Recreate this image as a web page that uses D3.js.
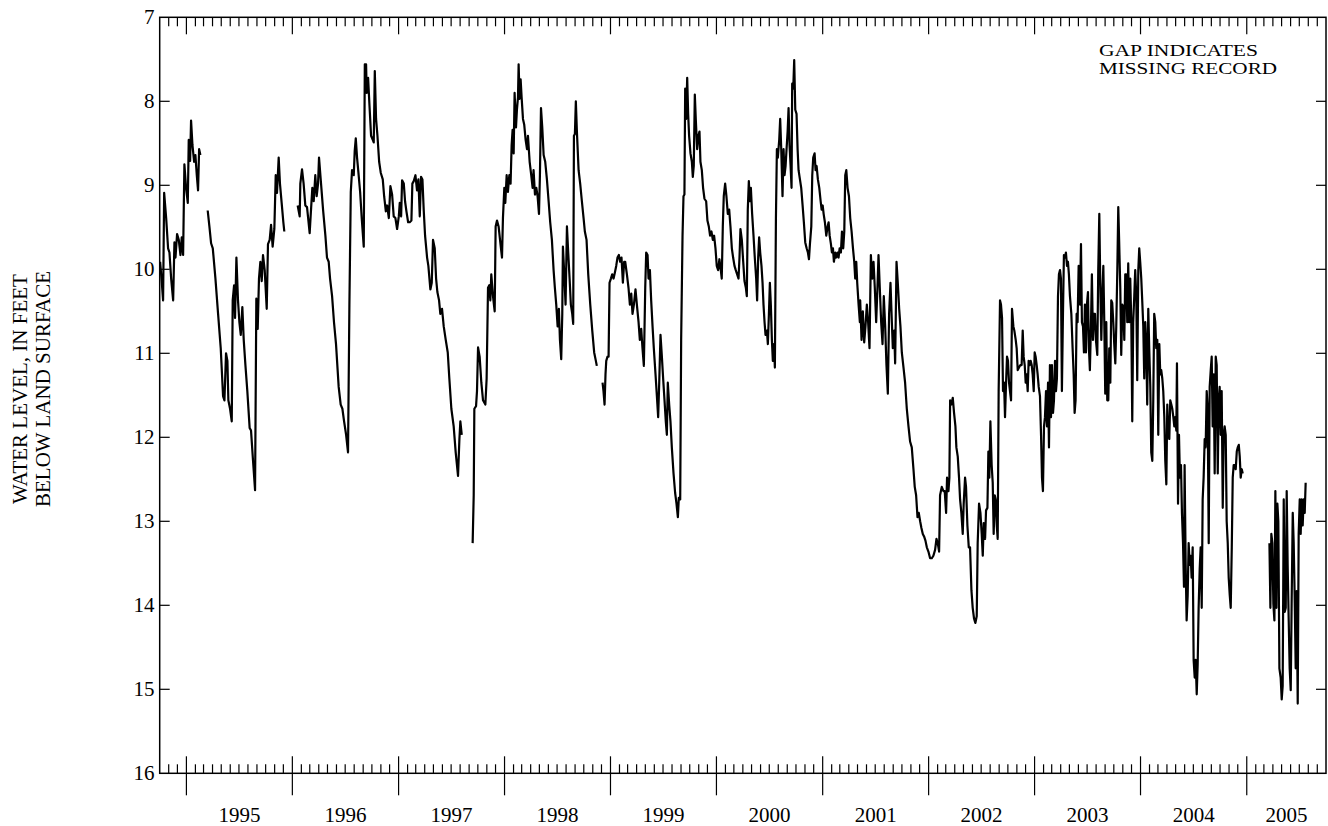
<!DOCTYPE html>
<html><head><meta charset="utf-8">
<script src="https://cdn.jsdelivr.net/npm/d3@7"></script>
<style>
body{margin:0;background:#fff}
svg{display:block}
text{font-family:"Liberation Serif","Times New Roman",Times,serif;fill:#000}
</style>
</head><body>
<svg id="chart" width="1328" height="826"></svg>
<script>
// Water level, feet below land surface; [decimal year, level]. Gaps between segments = missing record.
const segOct94Feb95 = [[1994.752,9.91],[1994.765,10.11],[1994.780,10.37],[1994.790,9.09],[1994.809,9.39],[1994.827,9.75],[1994.840,9.80],[1994.856,10.11],[1994.875,10.37],[1994.887,9.68],[1994.897,9.86],[1994.912,9.58],[1994.928,9.65],[1994.944,9.83],[1994.956,9.62],[1994.969,9.83],[1994.981,8.75],[1994.997,9.03],[1995.013,9.21],[1995.022,8.46],[1995.035,8.71],[1995.044,8.23],[1995.057,8.52],[1995.073,8.72],[1995.085,8.64],[1995.098,8.88],[1995.110,9.06],[1995.120,8.57],[1995.132,8.64]];

const segMar95Dec95 = [[1995.201,9.30],[1995.217,9.49],[1995.233,9.69],[1995.249,9.75],[1995.274,10.11],[1995.299,10.53],[1995.324,10.94],[1995.346,11.51],[1995.359,11.56],[1995.374,11.00],[1995.387,11.09],[1995.396,11.56],[1995.412,11.66],[1995.428,11.81],[1995.437,10.37],[1995.450,10.19],[1995.459,10.58],[1995.472,9.86],[1995.487,10.37],[1995.500,10.63],[1995.513,10.78],[1995.528,10.45],[1995.541,10.84],[1995.557,11.14],[1995.575,11.45],[1995.597,11.89],[1995.610,11.92],[1995.629,12.28],[1995.648,12.63],[1995.660,10.35],[1995.673,10.71],[1995.685,10.11],[1995.698,9.91],[1995.711,10.14],[1995.723,9.83],[1995.739,10.01],[1995.758,10.47],[1995.770,9.70],[1995.786,9.65],[1995.799,9.47],[1995.814,9.73],[1995.830,9.52],[1995.843,8.88],[1995.855,9.09],[1995.871,8.67],[1995.883,8.98],[1995.899,9.21],[1995.915,9.44],[1995.924,9.55]];

const segJan96Aug97 = [[1996.050,9.24],[1996.069,9.37],[1996.075,8.98],[1996.091,8.81],[1996.106,8.98],[1996.122,9.24],[1996.138,9.26],[1996.147,9.37],[1996.163,9.57],[1996.172,9.37],[1996.188,9.03],[1996.201,9.19],[1996.216,8.88],[1996.229,9.13],[1996.242,8.98],[1996.251,8.67],[1996.270,8.98],[1996.289,9.29],[1996.311,9.60],[1996.326,9.86],[1996.342,9.91],[1996.355,10.11],[1996.374,10.32],[1996.392,10.63],[1996.411,10.89],[1996.436,11.40],[1996.455,11.61],[1996.471,11.66],[1996.487,11.81],[1996.506,11.97],[1996.524,12.18],[1996.537,10.42],[1996.550,9.08],[1996.562,8.82],[1996.578,8.88],[1996.587,8.59],[1996.597,8.44],[1996.609,8.67],[1996.622,8.85],[1996.638,9.08],[1996.653,9.39],[1996.672,9.73],[1996.682,7.56],[1996.694,7.56],[1996.700,7.90],[1996.713,7.72],[1996.726,8.05],[1996.741,8.41],[1996.757,8.46],[1996.766,8.49],[1996.776,7.64],[1996.788,8.21],[1996.801,8.41],[1996.817,8.72],[1996.832,8.85],[1996.851,8.93],[1996.864,9.13],[1996.880,9.31],[1996.892,9.24],[1996.908,9.39],[1996.923,9.01],[1996.939,9.11],[1996.954,9.37],[1996.970,9.39],[1996.986,9.52],[1997.002,9.37],[1997.011,9.21],[1997.024,9.37],[1997.033,8.94],[1997.049,8.98],[1997.061,9.19],[1997.074,9.31],[1997.090,9.44],[1997.105,9.44],[1997.121,9.42],[1997.130,8.98],[1997.143,8.95],[1997.159,8.88],[1997.174,9.06],[1997.187,8.93],[1997.200,9.37],[1997.212,8.90],[1997.225,8.93],[1997.237,9.29],[1997.250,9.60],[1997.269,9.86],[1997.281,9.96],[1997.300,10.24],[1997.313,10.16],[1997.325,9.65],[1997.341,9.75],[1997.354,10.11],[1997.366,10.27],[1997.382,10.37],[1997.394,10.53],[1997.410,10.47],[1997.426,10.68],[1997.445,10.84],[1997.464,10.99],[1997.479,11.30],[1997.498,11.66],[1997.520,11.87],[1997.539,12.18],[1997.561,12.46],[1997.574,12.02],[1997.583,11.81],[1997.596,11.97]];

const segSep97Nov98 = [[1997.699,13.26],[1997.709,12.69],[1997.715,11.66],[1997.731,11.63],[1997.740,11.45],[1997.750,10.93],[1997.765,11.04],[1997.781,11.35],[1997.797,11.56],[1997.819,11.61],[1997.831,11.30],[1997.844,10.22],[1997.856,10.19],[1997.866,10.37],[1997.875,10.06],[1997.891,10.32],[1997.907,10.50],[1997.916,9.49],[1997.929,9.42],[1997.944,9.49],[1997.960,9.68],[1997.976,9.86],[1997.985,9.39],[1997.998,9.03],[1998.007,9.21],[1998.020,8.88],[1998.032,9.08],[1998.045,8.88],[1998.057,8.98],[1998.067,8.52],[1998.076,8.34],[1998.086,8.62],[1998.095,7.90],[1998.108,8.31],[1998.117,8.10],[1998.127,7.95],[1998.133,7.56],[1998.142,7.97],[1998.152,7.74],[1998.161,7.95],[1998.174,8.21],[1998.186,8.28],[1998.199,8.46],[1998.212,8.57],[1998.221,8.41],[1998.237,8.72],[1998.252,8.88],[1998.265,9.03],[1998.274,8.82],[1998.287,9.11],[1998.300,9.03],[1998.312,9.13],[1998.325,9.34],[1998.334,8.88],[1998.344,8.08],[1998.356,8.31],[1998.369,8.64],[1998.384,8.72],[1998.400,8.93],[1998.416,9.19],[1998.431,9.44],[1998.447,9.65],[1998.463,10.01],[1998.475,10.22],[1998.488,10.42],[1998.501,10.68],[1998.513,10.47],[1998.523,10.84],[1998.535,11.07],[1998.545,10.53],[1998.551,9.73],[1998.564,10.06],[1998.576,10.42],[1998.589,9.49],[1998.601,9.80],[1998.614,10.11],[1998.626,10.42],[1998.639,10.53],[1998.648,10.65],[1998.655,8.41],[1998.664,8.39],[1998.673,8.00],[1998.683,8.36],[1998.699,8.82],[1998.714,8.98],[1998.730,9.19],[1998.746,9.39],[1998.758,9.55],[1998.774,9.65],[1998.790,10.06],[1998.809,10.42],[1998.828,10.73],[1998.846,10.99],[1998.862,11.09],[1998.871,11.15]];

const segDec98Dec04 = [[1998.925,11.35],[1998.934,11.45],[1998.944,11.61],[1998.953,11.25],[1998.960,11.09],[1998.972,11.04],[1998.982,11.04],[1998.991,10.16],[1999.004,10.11],[1999.016,10.06],[1999.029,10.11],[1999.041,10.04],[1999.054,9.96],[1999.066,9.86],[1999.079,9.83],[1999.091,9.91],[1999.104,9.86],[1999.117,10.16],[1999.129,9.91],
[1999.139,9.91],[1999.155,10.06],[1999.170,10.22],[1999.183,10.42],[1999.196,10.29],[1999.208,10.53],[1999.221,10.42],[1999.236,10.24],[1999.249,10.42],[1999.265,10.63],[1999.277,10.84],[1999.290,10.71],[1999.302,10.94],[1999.315,11.15],[1999.328,10.22],[1999.337,9.80],[1999.350,9.83],[1999.359,10.11],[1999.372,10.01],[1999.384,10.37],[1999.397,10.68],[1999.409,10.94],[1999.425,11.25],[1999.438,11.51],[1999.450,11.76],[1999.460,11.35],[1999.472,10.78],[1999.485,11.04],[1999.497,11.30],[1999.510,11.56],[1999.522,11.81],[1999.532,11.97],[1999.541,11.35],[1999.554,11.61],[1999.566,11.81],[1999.579,12.12],[1999.595,12.43],[1999.610,12.66],[1999.623,12.79],[1999.636,12.95],[1999.645,12.72],[1999.658,12.74],[1999.667,10.84],[1999.680,9.60],[1999.689,9.13],[1999.698,9.11],[1999.705,7.85],[1999.714,8.21],[1999.724,7.72],[1999.733,8.15],[1999.742,8.41],[1999.755,8.62],[1999.768,8.72],[1999.777,8.90],[1999.786,8.77],[1999.796,7.92],[1999.805,8.21],[1999.818,8.57],[1999.830,8.41],[1999.840,8.36],[1999.849,8.72],[1999.862,8.82],[1999.874,9.03],[1999.887,9.16],[1999.903,9.19],[1999.915,9.42],[1999.928,9.49],[1999.940,9.60],[1999.953,9.55],[1999.966,9.65],[1999.978,9.60],[1999.991,9.75],
[2000.003,9.96],[2000.016,10.01],[2000.028,9.88],[2000.041,10.01],[2000.050,10.11],[2000.060,9.49],[2000.069,9.13],[2000.082,8.98],[2000.094,9.13],[2000.107,9.34],[2000.120,9.29],[2000.132,9.49],[2000.145,9.75],[2000.157,9.86],[2000.170,9.96],[2000.182,10.01],[2000.195,10.06],[2000.208,10.11],[2000.217,9.86],[2000.226,9.52],[2000.239,9.65],[2000.252,9.91],[2000.264,10.14],[2000.277,10.22],[2000.286,10.32],[2000.295,9.29],[2000.305,8.95],[2000.314,9.19],[2000.324,9.03],[2000.336,9.34],[2000.349,9.60],[2000.361,9.86],[2000.374,10.11],[2000.383,10.37],[2000.393,9.86],[2000.402,9.62],[2000.412,9.80],[2000.424,9.96],[2000.434,10.16],[2000.443,10.42],[2000.453,10.63],[2000.462,10.78],[2000.475,10.73],[2000.484,10.89],[2000.494,10.53],[2000.503,10.16],[2000.512,10.42],[2000.522,10.84],[2000.531,11.09],[2000.541,10.89],[2000.550,11.17],[2000.560,9.39],[2000.569,8.57],[2000.578,8.67],[2000.591,8.46],[2000.600,8.21],[2000.610,8.57],[2000.622,9.13],[2000.632,8.57],[2000.641,8.88],[2000.651,8.77],[2000.660,8.57],[2000.670,8.36],[2000.679,8.08],[2000.688,8.52],[2000.698,8.77],[2000.707,9.03],[2000.713,7.79],[2000.723,7.85],[2000.732,7.51],[2000.742,8.10],[2000.754,8.15],[2000.764,8.57],[2000.773,8.82],[2000.786,8.93],[2000.798,9.03],[2000.811,9.24],[2000.823,9.44],[2000.836,9.68],[2000.849,9.75],[2000.861,9.80],[2000.871,9.88],[2000.880,9.70],[2000.893,9.49],[2000.902,8.88],[2000.911,8.67],[2000.924,8.62],[2000.933,8.82],[2000.943,8.77],[2000.955,8.93],[2000.968,9.03],[2000.981,9.19],[2000.990,9.29],
[2001.000,9.24],[2001.009,9.34],[2001.021,9.44],[2001.034,9.60],[2001.047,9.49],[2001.056,9.44],[2001.066,9.60],[2001.078,9.70],[2001.087,9.80],[2001.097,9.75],[2001.106,9.91],[2001.119,9.80],[2001.128,9.86],[2001.141,9.80],[2001.150,9.86],[2001.160,9.75],[2001.172,9.80],[2001.182,9.55],[2001.194,9.75],[2001.204,9.55],[2001.213,8.88],[2001.223,8.82],[2001.235,9.03],[2001.248,9.13],[2001.260,9.39],[2001.273,9.55],[2001.286,9.75],[2001.298,9.91],[2001.307,10.11],[2001.317,9.91],[2001.326,10.16],[2001.339,10.42],[2001.351,10.63],
[2001.354,10.37],[2001.367,10.84],[2001.379,10.50],[2001.392,10.87],[2001.404,10.68],[2001.417,10.42],[2001.429,10.63],[2001.442,10.94],[2001.455,9.83],[2001.467,10.11],[2001.480,9.91],[2001.492,10.22],[2001.505,10.63],[2001.517,10.22],[2001.527,9.83],[2001.539,10.22],[2001.552,10.63],[2001.565,10.89],[2001.577,10.32],[2001.590,10.68],[2001.602,11.14],[2001.615,11.48],[2001.627,10.53],[2001.640,10.16],[2001.653,10.63],[2001.662,10.94],[2001.675,10.73],[2001.684,11.12],[2001.697,9.91],[2001.709,10.16],[2001.722,10.47],[2001.734,10.68],[2001.747,10.99],[2001.763,11.17],[2001.778,11.35],[2001.794,11.66],[2001.810,11.87],[2001.825,12.05],[2001.841,12.12],[2001.857,12.38],[2001.869,12.59],[2001.882,12.69],[2001.895,12.95],[2001.907,12.90],[2001.920,13.00],[2001.932,13.08],[2001.945,13.15],[2001.957,13.18],[2001.970,13.23],[2001.983,13.31],[2001.998,13.36],
[2002.014,13.44],[2002.030,13.44],[2002.045,13.41],[2002.061,13.34],[2002.074,13.21],[2002.086,13.26],[2002.099,13.36],[2002.108,12.69],[2002.124,12.59],[2002.140,12.64],[2002.152,12.64],[2002.165,12.90],[2002.174,12.48],[2002.187,12.64],[2002.196,12.48],[2002.203,11.56],[2002.215,11.61],[2002.228,11.53],[2002.240,11.71],[2002.253,11.87],[2002.262,12.12],[2002.275,12.23],[2002.287,12.48],[2002.297,12.74],[2002.309,12.90],[2002.322,13.15],[2002.331,12.79],[2002.344,12.48],[2002.353,12.59],[2002.366,13.05],[2002.379,13.31],[2002.391,13.31],[2002.404,13.82],[2002.416,14.03],[2002.429,14.16],[2002.441,14.21],[2002.454,14.13],[2002.463,13.26],[2002.476,12.79],[2002.489,12.90],[2002.501,13.15],[2002.511,13.41],[2002.520,13.02],[2002.533,13.21],[2002.542,12.87],[2002.555,12.84],[2002.564,12.17],[2002.573,12.48],[2002.583,11.81],[2002.595,12.33],[2002.605,12.54],[2002.614,13.15],[2002.624,12.69],[2002.633,12.74],[2002.643,13.05],[2002.652,13.21],[2002.661,11.45],[2002.674,10.37],[2002.683,10.42],[2002.693,10.58],[2002.702,11.45],[2002.712,11.35],[2002.721,11.76],[2002.731,11.35],[2002.740,11.04],[2002.749,11.09],[2002.759,11.35],[2002.768,11.45],[2002.778,11.56],[2002.787,10.47],[2002.800,10.68],[2002.809,10.73],[2002.822,10.84],[2002.831,10.94],[2002.841,11.20],[2002.853,11.17],[2002.866,11.14],[2002.878,11.14],[2002.888,10.73],[2002.897,11.04],[2002.907,11.14],[2002.916,11.35],[2002.925,11.25],[2002.935,11.45],[2002.944,11.09],[2002.954,11.14],[2002.963,11.09],[2002.973,11.14],[2002.982,11.25],[2002.992,11.45],
[2003.001,10.99],[2003.010,11.04],[2003.020,11.14],[2003.029,11.25],[2003.039,11.40],[2003.051,11.51],[2003.061,11.97],[2003.070,12.48],[2003.079,12.64],[2003.089,11.87],[2003.098,11.76],[2003.108,11.45],[2003.117,11.87],[2003.127,11.35],[2003.136,12.12],[2003.145,11.14],[2003.155,11.76],[2003.164,11.14],[2003.174,11.71],[2003.183,11.56],[2003.193,11.09],[2003.202,11.45],[2003.211,11.30],[2003.221,10.32],[2003.230,10.06],[2003.240,10.01],[2003.249,10.11],[2003.258,11.45],[2003.268,10.53],[2003.277,9.83],[2003.287,9.86],[2003.296,9.80],[2003.306,9.96],[2003.315,9.91],[2003.324,10.06],[2003.334,10.32],[2003.347,10.53],[2003.359,10.94],[2003.369,11.25],[2003.378,11.71],[2003.387,11.56],[2003.397,10.53],[2003.406,10.63],[2003.416,9.96],[2003.428,10.42],[2003.438,9.70],[2003.447,10.63],[2003.457,10.68],[2003.466,10.99],[2003.475,10.42],[2003.485,10.99],[2003.494,10.42],[2003.504,10.27],[2003.513,10.94],[2003.522,11.20],[2003.532,10.68],[2003.541,10.06],[2003.551,10.84],[2003.560,10.53],
[2003.570,10.53],[2003.579,10.84],[2003.592,11.02],[2003.601,10.01],[2003.611,9.34],[2003.620,10.16],[2003.630,10.84],[2003.639,10.32],[2003.649,9.96],[2003.658,10.63],[2003.667,11.48],[2003.677,10.63],[2003.686,11.56],[2003.696,11.56],[2003.705,10.94],[2003.715,11.35],[2003.724,10.37],[2003.733,10.40],[2003.743,10.63],[2003.752,10.89],[2003.762,11.12],[2003.771,10.68],[2003.781,10.01],[2003.790,9.26],[2003.799,9.70],[2003.809,10.22],[2003.818,11.02],[2003.828,10.42],[2003.837,10.45],[2003.847,10.84],[2003.856,10.06],[2003.865,10.06],[2003.875,10.63],[2003.884,9.93],[2003.894,10.63],[2003.903,10.11],[2003.913,10.63],[2003.922,11.81],[2003.931,10.63],[2003.941,10.32],[2003.950,10.01],[2003.960,10.32],[2003.969,11.32],[2003.979,10.01],[2003.988,9.75],[2003.997,9.91],
[2004.007,10.11],[2004.016,10.37],[2004.026,10.68],[2004.035,11.30],[2004.045,10.63],[2004.054,10.89],[2004.063,11.61],[2004.073,10.47],[2004.082,10.94],[2004.092,11.40],[2004.101,12.18],[2004.111,12.28],[2004.120,11.56],[2004.129,10.53],[2004.139,10.63],[2004.148,10.94],[2004.158,10.84],[2004.167,11.97],[2004.177,10.89],[2004.186,11.25],[2004.195,11.20],[2004.205,11.30],[2004.214,11.45],[2004.224,11.76],[2004.233,12.28],[2004.243,12.56],[2004.252,11.61],[2004.261,11.97],[2004.271,12.02],[2004.280,11.56],[2004.290,11.61],[2004.299,11.66],[2004.309,11.76],[2004.318,11.87],[2004.327,11.76],[2004.337,11.92],[2004.343,11.12],[2004.353,12.79],[2004.362,11.97],[2004.371,12.48],[2004.381,12.33],[2004.390,12.90],[2004.400,13.26],[2004.409,13.78],[2004.415,12.33],[2004.425,13.52],[2004.434,14.18],[2004.444,13.88],[2004.453,13.26],[2004.463,13.52],[2004.472,13.41],[2004.481,13.67],[2004.491,13.31],[2004.500,14.65],[2004.510,14.86],[2004.519,14.65],[2004.529,15.06],[2004.538,14.70],[2004.547,14.03],[2004.557,13.57],[2004.566,13.31],[2004.576,14.03],[2004.585,12.74],[2004.594,12.48],[2004.604,12.02],[2004.613,12.12],[2004.623,11.45],[2004.632,11.66],[2004.642,13.26],[2004.651,11.40],[2004.661,11.20],[2004.670,11.04],[2004.679,11.87],[2004.689,11.25],[2004.698,12.43],[2004.708,11.04],[2004.717,11.14],[2004.727,12.43],[2004.736,11.56],[2004.745,11.40],[2004.755,11.97],[2004.764,11.45],[2004.774,12.84],[2004.783,11.97],[2004.792,11.87],[2004.802,11.97],[2004.811,13.00],[2004.821,13.26],[2004.830,13.67],[2004.840,13.88],[2004.849,14.03],[2004.859,13.31],[2004.868,12.48],[2004.877,12.33],[2004.887,12.33],[2004.896,12.38],[2004.906,12.17],[2004.915,12.12],[2004.925,12.09],[2004.934,12.23],[2004.943,12.48],[2004.953,12.38],[2004.962,12.43]];

const segMar05Jul05 = [[2005.214,13.26],[2005.223,14.03],[2005.232,13.15],[2005.242,13.26],[2005.251,13.98],[2005.261,14.18],[2005.270,12.64],[2005.280,14.03],[2005.289,12.79],[2005.298,13.00],[2005.308,14.75],[2005.320,14.86],[2005.330,15.12],[2005.339,14.96],[2005.349,12.74],[2005.358,14.08],[2005.368,14.03],[2005.377,12.64],[2005.386,13.52],[2005.396,14.18],[2005.405,14.75],[2005.415,15.01],[2005.424,13.93],[2005.434,12.90],[2005.443,13.26],[2005.452,13.88],[2005.462,14.75],[2005.471,13.83],[2005.481,15.17],[2005.490,13.15],[2005.500,12.74],[2005.509,13.15],[2005.518,12.74],[2005.528,13.05],[2005.537,12.74],[2005.547,12.90],[2005.556,12.54]];

const segments = [segOct94Feb95, segMar95Dec95, segJan96Aug97, segSep97Nov98, segDec98Dec04, segMar05Jul05];
const yTickValues = [7,8,9,10,11,12,13,14,15,16];
const yearLabels = ["1995","1996","1997","1998","1999","2000","2001","2002","2003","2004","2005"];
const noteLines = ["GAP INDICATES","MISSING RECORD"];
const yTitleLines = ["WATER LEVEL, IN FEET","BELOW LAND SURFACE"];

const W = 1328, H = 826;
const m = {l:159.7, r:1326, t:17.3, b:773.3};
const svg = d3.select("#chart");

const x = d3.scaleUtc()
  .domain([new Date(Date.UTC(1994,9,1)), new Date(Date.UTC(2005,9,1))])
  .range([m.l, m.r]);
const y = d3.scaleLinear().domain([7,16]).range([m.t, m.b]);

function decToDate(t){
  const yr = Math.floor(t);
  const a = Date.UTC(yr,0,1), b = Date.UTC(yr+1,0,1);
  return new Date(a + (t-yr)*(b-a));
}

// frame
svg.append("rect").attr("x",m.l).attr("y",m.t).attr("width",m.r-m.l).attr("height",m.b-m.t)
  .attr("fill","none").attr("stroke","#000").attr("stroke-width",1.5);

// month ticks (top and bottom, inward), year ticks longer and outward at bottom
const months = d3.utcMonth.range(new Date(Date.UTC(1994,10,1)), new Date(Date.UTC(2005,9,1)));
const tg = svg.append("g").attr("stroke","#000").attr("stroke-width",1.2);
months.forEach(d => {
  const xx = x(d), major = d.getUTCMonth() === 0;
  const len = major ? 17 : 9;
  tg.append("line").attr("x1",xx).attr("x2",xx).attr("y1",m.b).attr("y2",m.b-len);
  tg.append("line").attr("x1",xx).attr("x2",xx).attr("y1",m.t).attr("y2",m.t+len);
  if (major) tg.append("line").attr("x1",xx).attr("x2",xx).attr("y1",m.b).attr("y2",m.b+22);
});

// year labels centred in each year interval
yearLabels.forEach(lbl => {
  const yr = +lbl;
  const a = Math.max(x(new Date(Date.UTC(yr,0,1))), m.l);
  const b = Math.min(x(new Date(Date.UTC(yr+1,0,1))), m.r);
  svg.append("text").attr("x",(a+b)/2).attr("y",821.5).attr("text-anchor","middle")
    .attr("font-size",21).text(lbl);
});

// y ticks & labels
yTickValues.forEach(v => {
  const yy = y(v);
  if (v !== 7 && v !== 16) {
    tg.append("line").attr("x1",m.l).attr("x2",m.l+10).attr("y1",yy).attr("y2",yy);
    tg.append("line").attr("x1",m.r).attr("x2",m.r-10).attr("y1",yy).attr("y2",yy);
  }
  svg.append("text").attr("x",m.l-5.3).attr("y",yy+7.1).attr("text-anchor","end")
    .attr("font-size",21).text(v);
});

// y-axis title
const yc = 389;
const yt = svg.append("g").attr("font-size",21);
yTitleLines.forEach((s,i) => {
  yt.append("text").attr("transform",`translate(${27+i*23},${yc}) rotate(-90)`)
    .attr("text-anchor","middle").text(s);
});

// note: two tightly set lines, as in the reference
noteLines.forEach((s,i) => {
  svg.append("text").attr("x",1099).attr("y",55.6+i*17.9).attr("font-size",16)
    .attr("textLength", i===0 ? 159 : 178).attr("lengthAdjust","spacingAndGlyphs").text(s);
});

// data line
const line = d3.line().x(d => x(decToDate(d[0]))).y(d => y(d[1]));
svg.append("g").selectAll("path").data(segments).join("path")
  .attr("d", line).attr("fill","none").attr("stroke","#000")
  .attr("stroke-width",2.2).attr("stroke-linejoin","round");
</script>
</body></html>
